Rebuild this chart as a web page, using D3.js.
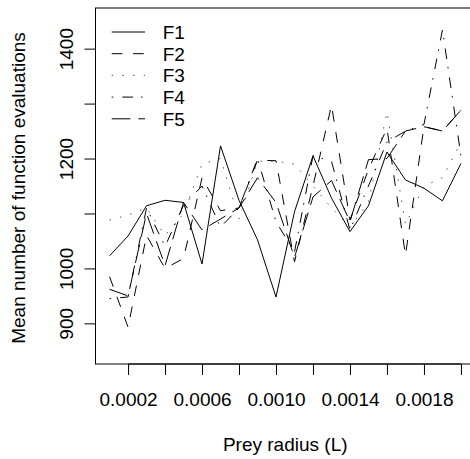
<!DOCTYPE html>
<html><head><meta charset="utf-8">
<script src="https://cdn.jsdelivr.net/npm/d3@7"></script>
<style>body{margin:0;background:#fff}svg{display:block}text{font-family:"Liberation Sans",Arial,sans-serif;fill:#000}</style>
</head><body><svg id="c" width="470" height="459"></svg>
<script>
const radius = [0.0001,0.0002,0.0003,0.0004,0.0005,0.0006,0.0007,0.0008,0.0009,0.0010,0.0011,0.0012,0.0013,0.0014,0.0015,0.0016,0.0017,0.0018,0.0019,0.0020];
const F1 = [1023,1059,1114,1124,1120,1008,1223,1124,1052,948,1103,1205,1128,1067,1114,1212,1161,1146,1123,1191];
const F2 = [985,893,1060,1000,1018,1165,1105,1110,1197,1196,1012,1150,1297,1088,1180,1255,1024,1258,1250,1288];
const F3 = [1088,1097,1110,1060,1100,1190,1200,1090,1195,1195,1190,1150,1110,1075,1120,1285,1080,1150,1165,1230];
const F4 = [945,948,1110,1040,1115,1150,1075,1110,1200,1085,1030,1205,1195,1070,1150,1230,1250,1262,1434,1205];
const F5 = [962,950,1100,1005,1120,1070,1090,1110,1165,1120,1020,1130,1160,1085,1198,1200,1250,1258,1250,1288];
const seriesNames = ["F1","F2","F3","F4","F5"];
const xTicks = [0.0002,0.0004,0.0006,0.0008,0.0010,0.0012,0.0014,0.0016,0.0018,0.0020];
const xLabelled = [0.0002,0.0006,0.0010,0.0014,0.0018];
const yTicks = [900,1000,1100,1200,1300,1400];
const yLabelled = [900,1000,1200,1400];

const series = [F1,F2,F3,F4,F5];
const dashes = [null,"10.7,10.7","1.5,9.2","1.5,9.2,10.7,7.9","18.7,8"];
const colors = ["#000","#000","#555","#000","#000"];
const svg = d3.select("#c");
const L = 95.5, R = 475, T = 8, B = 364;
const x = d3.scaleLinear().domain([0.000024,0.002076]).range([L,R]);
const y = d3.scaleLinear().domain([826,1474]).range([B,T]);
const fs = 19;

svg.append("rect").attr("x",L).attr("y",T).attr("width",R-L).attr("height",B-T)
  .attr("fill","none").attr("stroke","#000").attr("stroke-width",1);

const line = d3.line().x((d,i)=>x(radius[i])).y(d=>y(d));
series.forEach((s,k)=>{
  svg.append("path").datum(s).attr("d",line).attr("fill","none")
    .attr("stroke",colors[k]).attr("stroke-width",1)
    .attr("stroke-dasharray",dashes[k]);
});

// x axis
const xa = svg.append("g").attr("transform",`translate(0,${B})`)
  .call(d3.axisBottom(x).tickValues(xTicks).tickSize(11).tickSizeOuter(0)
    .tickFormat(d=>xLabelled.some(v=>Math.abs(v-d)<1e-9)?d3.format(".4f")(d):""));
xa.select(".domain").attr("d",`M${x(0.0002)},0H${x(0.0020)}`).attr("stroke","#000");
xa.selectAll("line").attr("stroke","#000");
xa.selectAll("text").attr("font-size",fs).attr("y",29).attr("dy","0.71em").attr("font-family","Liberation Sans, Arial, sans-serif").attr("fill","#000");

// y axis
const ya = svg.append("g").attr("transform",`translate(${L},0)`)
  .call(d3.axisLeft(y).tickValues(yTicks).tickSize(11).tickSizeOuter(0)
    .tickFormat(d=>yLabelled.includes(d)?String(d):""));
ya.select(".domain").attr("d",`M0,${y(900)}V${y(1400)}`).attr("stroke","#000");
ya.selectAll("line").attr("stroke","#000");
ya.selectAll("text").attr("font-size",fs).attr("x",null).attr("dy",null)
  .attr("text-anchor","middle").attr("font-family","Liberation Sans, Arial, sans-serif").attr("fill","#000")
  .attr("transform","translate(-23,0) rotate(-90)");

// titles
svg.append("text").attr("x",(L+R)/2).attr("y",451).attr("text-anchor","middle")
  .attr("font-size",fs).text("Prey radius (L)");
svg.append("text").attr("transform",`translate(25,188) rotate(-90)`)
  .attr("text-anchor","middle").attr("font-size",fs).text("Mean number of function evaluations");

// legend
const lg = svg.append("g");
seriesNames.forEach((n,k)=>{
  const yy = 32 + k*21.7;
  lg.append("line").attr("x1",111.7).attr("x2",145).attr("y1",yy).attr("y2",yy)
    .attr("stroke",colors[k]).attr("stroke-width",1).attr("stroke-dasharray",dashes[k]);
  lg.append("text").attr("x",162.7).attr("y",yy).attr("dy","0.36em").attr("font-size",fs).text(n);
});
</script></body></html>
